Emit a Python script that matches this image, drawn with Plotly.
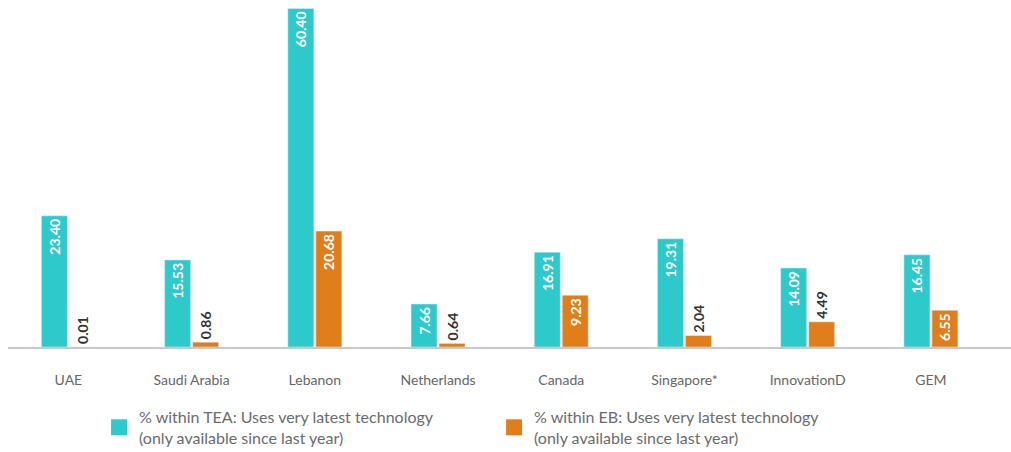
import plotly.graph_objects as go

categories = ["UAE", "Saudi Arabia", "Lebanon", "Netherlands", "Canada", "Singapore*", "InnovationD", "GEM"]
tea_values = [23.40, 15.53, 60.40, 7.66, 16.91, 19.31, 14.09, 16.45]
eb_values = [0.01, 0.86, 20.68, 0.64, 9.23, 2.04, 4.49, 6.55]
tea_name = "% within TEA: Uses very latest technology<br>(only available since last year)"
eb_name = "% within EB: Uses very latest technology<br>(only available since last year)"

TEAL = "#2EC9CB"
ORANGE = "#E07E1C"
FONT = "Lato"

fig = go.Figure()
for vals, col, name in [(tea_values, TEAL, tea_name), (eb_values, ORANGE, eb_name)]:
    fig.add_trace(go.Bar(
        x=categories, y=vals, marker_color=col, name=name, showlegend=False,
        text=[f"{v:.2f}" for v in vals],
        textposition=["inside" if v >= 5 else "outside" for v in vals],
        textangle=-90, insidetextanchor="end", constraintext="none",
        insidetextfont=dict(family=FONT, size=14, color="white", weight="bold"),
        outsidetextfont=dict(family=FONT, size=14, color="#333333", weight="bold"),
        cliponaxis=False,
    ))
    fig.add_trace(go.Scatter(
        x=[None], y=[None], mode="markers", name=name,
        marker=dict(symbol="square", size=20, color=col), showlegend=True,
    ))

fig.update_layout(
    width=1011, height=452,
    margin=dict(l=8, r=0, t=0, b=105),
    paper_bgcolor="white", plot_bgcolor="white",
    barmode="group", bargap=0.546, bargroupgap=0.07,
    font=dict(family=FONT, color="#666666"),
    legend=dict(
        orientation="h", xref="container", yref="container",
        x=0.098, y=0.115, xanchor="left", yanchor="top",
        entrywidth=350, entrywidthmode="pixels",
        font=dict(family=FONT, size=16, color="#6b6b6b"),
        itemsizing="trace", tracegroupgap=0,
    ),
    showlegend=True,
)
fig.update_xaxes(
    showline=True, linecolor="#c8c8c8", linewidth=2,
    range=[-0.49, 7.65], showgrid=False, ticks="",
    tickfont=dict(family=FONT, size=14, color="#666666"),
    ticklabelstandoff=19,
)
fig.update_yaxes(range=[0, 61.9], visible=False, showgrid=False, zeroline=False)

fig.write_html("out.html", config={"displayModeBar": False},
               post_script="document.body.style.margin='0';")
